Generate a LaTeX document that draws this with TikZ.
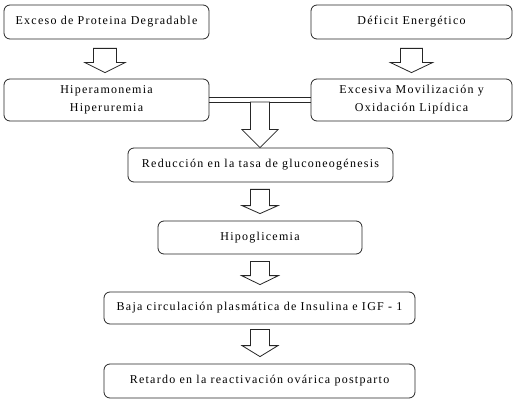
\documentclass[tikz,border=0pt]{standalone}
\usepackage{fontspec}
\setmainfont{Liberation Serif}[LetterSpace=10.5]
\usetikzlibrary{calc}
\tikzset{
  box/.style={draw=black!85, line width=0.8pt, rounded corners=6pt, inner sep=0pt, align=center,
    font=\fontsize{12}{18}\selectfont},
  hollow/.style={draw=black!85, line width=0.8pt, fill=white, line join=miter},
  link/.style={draw=black!85, line width=0.7pt}
}
\newcommand\hollowarrow[5]{%
  \draw[hollow] let \p1=(#1), \p2=(#2) in
    (\x1-#3,\y1) -- (\x1-#3,\y2+#5) -- (\x1-#4,\y2+#5) -- (\x1,\y2)
    -- (\x1+#4,\y2+#5) -- (\x1+#3,\y2+#5) -- (\x1+#3,\y1) -- cycle;}
\begin{document}
\begin{tikzpicture}[x=1pt,y=-1pt]
\useasboundingbox (0,0) rectangle (521,403);
\node[box, minimum width=205pt, minimum height=34pt] (b1) at (106.5,22) {Exceso de Proteina Degradable};
\node[box, minimum width=201pt, minimum height=34pt] (b2) at (411.5,22) {Déficit Energético};
\node[box, minimum width=205pt, minimum height=42pt] (b3) at (106.5,100) {Hiperamonemia\\Hiperuremia};
\node[box, minimum width=201pt, minimum height=42pt] (b4) at (411.5,100) {Excesiva Movilización y\\Oxidación Lipídica};
\node[box, minimum width=265pt, minimum height=34pt] (b5) at (260.5,165) {Reducción en la tasa de gluconeogénesis};
\node[box, minimum width=204pt, minimum height=33pt] (b6) at (260,237.5) {Hipoglicemia};
\node[box, minimum width=311pt, minimum height=32pt] (b7) at (259.5,308) {Baja circulación plasmática de Insulina e IGF - 1};
\node[box, minimum width=311pt, minimum height=34pt] (b8) at (259.5,381) {Retardo en la reactivación ovárica postparto};
% double link between the middle boxes
\coordinate (m1) at ($(b3.east)+(0,-3)$);
\coordinate (m2) at ($(b3.east)+(0,2)$);
\draw[link] (m1) -- (m1 -| b4.west);
\draw[link] (m2) -- (m2 -| b4.west);
\coordinate (mid) at ($(m2)!0.5!(m2 -| b4.west)$);
% hollow arrows
\coordinate (a1t) at ($(b1.south)+(-1.5,9)$);
\coordinate (a1h) at ($(b3.north)+(-1.5,-6)$);
\hollowarrow{a1t}{a1h}{11.5}{20}{10}
\coordinate (a2t) at ($(b2.south)+(0,9)$);
\coordinate (a2h) at ($(b4.north)+(0,-6)$);
\hollowarrow{a2t}{a2h}{11}{21}{10}
\hollowarrow{mid}{b5.north}{9.5}{18}{18}
\coordinate (a4t) at ($(b5.south)+(-0.5,7)$);
\coordinate (a4h) at ($(b6.north)+(0,-7)$);
\hollowarrow{a4t}{a4h}{9.5}{18}{8}
\coordinate (a5t) at ($(b6.south)+(0,7)$);
\coordinate (a5h) at ($(b7.north)+(0.5,-7)$);
\hollowarrow{a5t}{a5h}{9.5}{18.5}{9}
\coordinate (a6t) at ($(b7.south)+(0.5,5)$);
\coordinate (a6h) at ($(b8.north)+(0.5,-7)$);
\hollowarrow{a6t}{a6h}{9.5}{18}{11}
\end{tikzpicture}
\end{document}
